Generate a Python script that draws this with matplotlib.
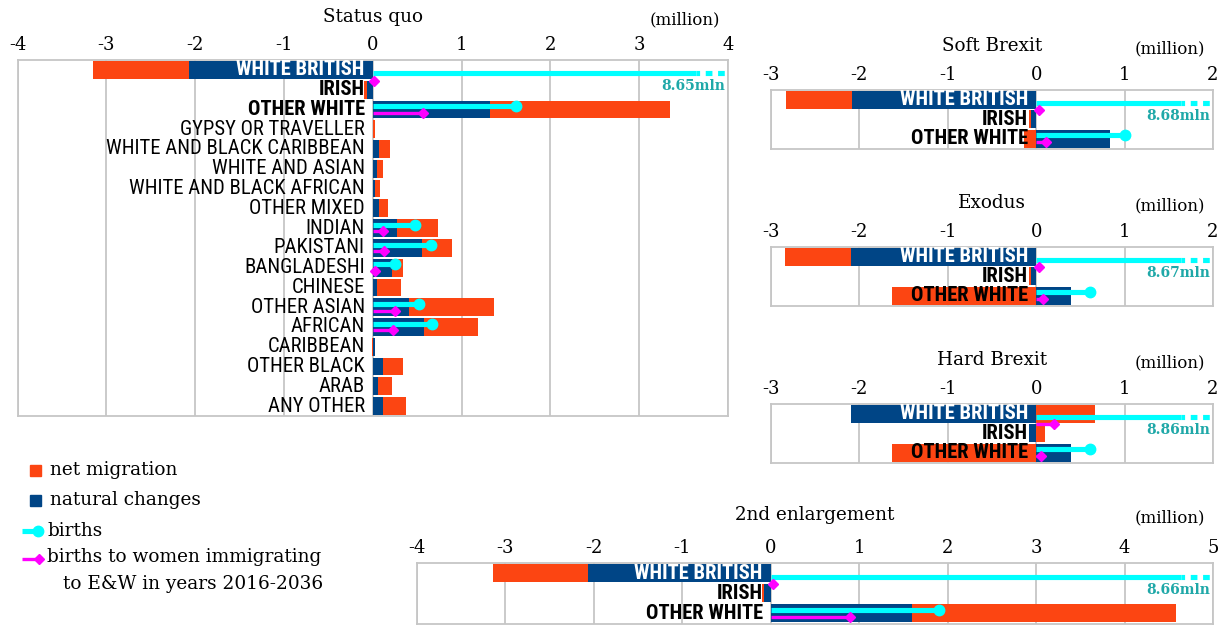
import numpy as np
import matplotlib
matplotlib.use("Agg")
import matplotlib.pyplot as plt
from matplotlib import font_manager as fm
from matplotlib.font_manager import FontProperties

# ---------------- data (million) ----------------
sq_groups = ["WHITE BRITISH", "IRISH", "OTHER WHITE", "GYPSY OR TRAVELLER",
             "WHITE AND BLACK CARIBBEAN", "WHITE AND ASIAN", "WHITE AND BLACK AFRICAN",
             "OTHER MIXED", "INDIAN", "PAKISTANI", "BANGLADESHI", "CHINESE",
             "OTHER ASIAN", "AFRICAN", "CARIBBEAN", "OTHER BLACK", "ARAB", "ANY OTHER"]
sq_natural = [-2.065, -0.063, 1.32, 0.004, 0.075, 0.05, 0.03, 0.075, 0.27, 0.56,
              0.22, 0.05, 0.41, 0.58, 0.03, 0.11, 0.064, 0.11]
sq_net = [-1.08, -0.031, 2.03, 0.026, 0.115, 0.07, 0.057, 0.102, 0.46, 0.327,
          0.126, 0.273, 0.96, 0.61, -0.01, 0.225, 0.156, 0.27]
sq_births = [8.65, None, 1.61, None, None, None, None, None, 0.48, 0.66,
             0.256, None, 0.526, 0.665, None, None, None, None]
sq_births_imm = [0.01, None, 0.57, None, None, None, None, None, 0.11, 0.124,
                 0.027, None, 0.248, 0.225, None, None, None, None]

white_groups = ["WHITE BRITISH", "IRISH", "OTHER WHITE"]

soft_natural = [-2.08, -0.064, 0.837]
soft_net = [-0.755, -0.019, -0.14]
soft_births = [8.68, None, 1.0]
soft_births_imm = [0.03, None, 0.113]

exo_natural = [-2.1, -0.06, 0.396]
exo_net = [-0.746, -0.019, -1.632]
exo_births = [8.67, None, 0.614]
exo_births_imm = [0.03, None, 0.075]

hard_natural = [-2.1, -0.087, 0.396]
hard_net = [0.66, 0.094, -1.632]
hard_births = [8.86, None, 0.614]
hard_births_imm = [0.207, None, 0.05]

enl_natural = [-2.064, -0.077, 1.594]
enl_net = [-1.076, -0.024, 2.993]
enl_births = [8.66, None, 1.9]
enl_births_imm = [0.02, None, 0.892]

legend_labels = ["net migration", "natural changes", "births",
                 "births to women immigrating", "to E&W in years 2016-2036"]

# ---------------- fonts ----------------
SERIF = "DejaVu Serif"


def find_narrow():
    prefs = ["Liberation Sans Narrow", "Roboto Condensed", "Open Sans Condensed",
             "Noto Sans Condensed", "DejaVu Sans Condensed", "DejaVuSansCondensed"]
    entries = fm.fontManager.ttflist
    for p in prefs:
        key = p.replace(" ", "").lower()
        reg = bold = None
        for f in entries:
            fn = f.fname.replace(" ", "").lower()
            nm = f.name.replace(" ", "").lower()
            if key in fn or key == nm:
                w = str(f.weight)
                isbold = ("bold" in fn.split("/")[-1]) or w in ("bold", "700")
                isital = "italic" in fn.split("/")[-1] or "oblique" in fn.split("/")[-1]
                if isital:
                    continue
                if isbold and bold is None and "semi" not in fn.split("/")[-1]:
                    bold = f.fname
                if (not isbold) and reg is None and "light" not in fn.split("/")[-1] \
                        and "medium" not in fn.split("/")[-1]:
                    reg = f.fname
        if reg:
            return (FontProperties(fname=reg),
                    FontProperties(fname=bold) if bold else FontProperties(fname=reg, weight="bold"))
    return (FontProperties(family="Lato"), FontProperties(family="Lato", weight="bold"))


CAT_REG, CAT_BOLD = find_narrow()

RED = "#FC4512"
BLUE = "#004586"
CYAN = "#00FFFF"
MAG = "#FF00FF"
TEAL = "#1FA8A8"
GRID = "#C6C6C6"

W, H = 1228, 625
fig = plt.figure(figsize=(W / 100, H / 100), dpi=100)

# calibrate the category font so that a long label has the reference width
renderer = fig.canvas.get_renderer()
probe = fig.text(0, 0, "WHITE AND BLACK CARIBBEAN", fontproperties=CAT_REG.copy())
probe.set_fontsize(14)
wpx = probe.get_window_extent(renderer).width
probe.remove()
CAT_FS = min(15.0, 14 * 259.0 / wpx)


def px_axes(x0, y0, x1, y1):
    return fig.add_axes([x0 / W, 1 - y1 / H, (x1 - x0) / W, (y1 - y0) / H])


def panel(ax, groups, natural, net, births, births_imm, xmin, xmax, title,
          title_off=44):
    n = len(groups)
    y = np.arange(n)
    nat = np.array(natural, dtype=float)
    nm = np.array(net, dtype=float)
    left = np.where(np.sign(nm) == np.sign(nat), nat, 0.0)
    ax.set_xlim(xmin, xmax)
    ax.set_ylim(n - 0.5, -0.5)
    ticks = list(range(xmin, xmax + 1))
    for t in ticks:
        ax.axvline(t, color=GRID, lw=1.3, zorder=0)
    ax.barh(y, nat, height=0.9, color=BLUE, zorder=2)
    ax.barh(y, nm, left=left, height=0.9, color=RED, zorder=2)

    for i, g in enumerate(groups):
        bold = g in white_groups
        col = "white" if g == "WHITE BRITISH" else "black"
        fp = (CAT_BOLD if bold else CAT_REG).copy()
        fp.set_size(CAT_FS)
        ax.annotate(g, xy=(0, i), xytext=(-8, 0), textcoords="offset pixels",
                    ha="right", va="center", fontproperties=fp, color=col, zorder=5)

    for i in range(n):
        wb = groups[i] == "WHITE BRITISH"
        b = births[i]
        if b is not None:
            yy = i + (0.17 if wb else -0.17)
            if b > xmax:
                brk = xmax - 0.36
                ax.plot([0, brk], [yy, yy], color=CYAN, lw=3.7,
                        solid_capstyle="butt", zorder=3)
                ax.plot([brk, xmax], [yy, yy], color=CYAN, lw=3.7,
                        linestyle=(0.6, (1.3, 1.1)), dash_capstyle="butt", zorder=3)
                ax.annotate(f"{b:.2f}mln", xy=(xmax, yy), xytext=(-3, -13),
                            textcoords="offset pixels", ha="right", va="center",
                            fontsize=10, family=SERIF, fontweight="bold",
                            color=TEAL, zorder=5)
            else:
                ax.plot([0, b], [yy, yy], color=CYAN, lw=3.7,
                        solid_capstyle="butt", zorder=3)
                ax.plot([b], [yy], "o", color=CYAN, ms=7.5, zorder=4)
        m = births_imm[i]
        if m is not None:
            yy = i + (0.55 if wb else 0.17)
            ax.plot([0, m], [yy, yy], color=MAG, lw=2.4,
                    solid_capstyle="butt", zorder=3)
            ax.plot([m], [yy], "D", color=MAG, ms=5.5, zorder=4)

    ax.xaxis.tick_top()
    ax.set_xticks(ticks)
    ax.set_xticklabels([str(t) for t in ticks], family=SERIF, fontsize=13)
    ax.tick_params(axis="x", length=0, pad=4)
    ax.set_yticks([])
    for s in ax.spines.values():
        s.set_color(GRID)
        s.set_linewidth(1.3)
    ax.annotate(title, xy=(0.5, 1), xycoords="axes fraction",
                xytext=(0, title_off), textcoords="offset pixels",
                ha="center", va="center", fontsize=13.2, family=SERIF)
    ax.annotate("(million)", xy=(1, 1), xycoords="axes fraction",
                xytext=(-8, title_off - 3), textcoords="offset pixels",
                ha="right", va="center", fontsize=12, family=SERIF)


ax_sq = px_axes(17.5, 60, 728, 416)
panel(ax_sq, sq_groups, sq_natural, sq_net, sq_births, sq_births_imm, -4, 4,
      "Status quo", 43)

ax_soft = px_axes(771, 90, 1213, 148.5)
panel(ax_soft, white_groups, soft_natural, soft_net, soft_births, soft_births_imm,
      -3, 2, "Soft Brexit")

ax_exo = px_axes(771, 247, 1213, 305.5)
panel(ax_exo, white_groups, exo_natural, exo_net, exo_births, exo_births_imm,
      -3, 2, "Exodus")

ax_hard = px_axes(771, 404, 1213, 462.5)
panel(ax_hard, white_groups, hard_natural, hard_net, hard_births, hard_births_imm,
      -3, 2, "Hard Brexit")

ax_enl = px_axes(417, 563, 1213, 623.5)
panel(ax_enl, white_groups, enl_natural, enl_net, enl_births, enl_births_imm,
      -4, 5, "2nd enlargement", 48)

# ---------------- legend (figure pixel overlay) ----------------
ov = fig.add_axes([0, 0, 1, 1])
ov.set_xlim(0, W)
ov.set_ylim(H, 0)
ov.axis("off")
ov.add_patch(plt.Rectangle((30, 465), 11, 11, color=RED))
ov.add_patch(plt.Rectangle((30, 495), 11, 11, color=BLUE))
ov.plot([22, 38], [531, 531], color=CYAN, lw=3.7, solid_capstyle="butt")
ov.plot([38], [531], "o", color=CYAN, ms=7.5)
ov.plot([22, 39], [559, 559], color=MAG, lw=2.4, solid_capstyle="butt")
ov.plot([39], [559], "D", color=MAG, ms=5.5)
leg_pos = [(50, 470), (50, 500), (47, 531), (47, 557), (63, 584)]
for (lx, ly), txt in zip(leg_pos, legend_labels):
    ov.text(lx, ly, txt, ha="left", va="center", fontsize=13.3, family=SERIF)

fig.savefig("out.png", dpi=100)
